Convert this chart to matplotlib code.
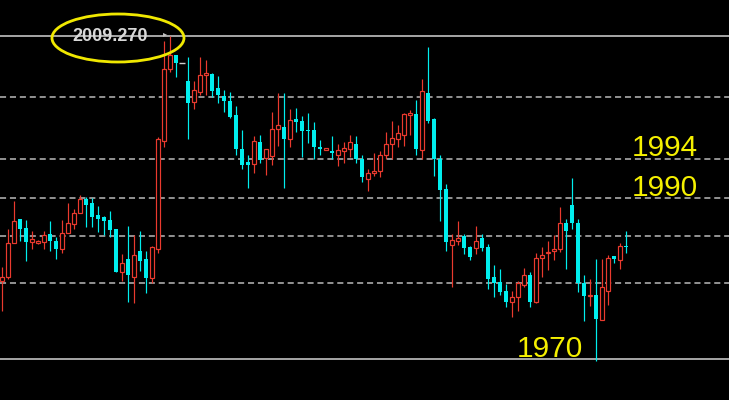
import matplotlib
matplotlib.use("Agg")
import matplotlib.pyplot as plt
from matplotlib.patches import Ellipse

# OHLC of each bar (oldest first)
opens = [1978.65, 1979.15, 1983.40, 1986.40, 1985.27, 1983.52, 1983.40, 1983.52, 1984.52, 1983.65,
         1982.65, 1984.65, 1985.77, 1987.15, 1988.90, 1988.40, 1986.90, 1986.65, 1986.27, 1985.15,
         1979.77, 1981.40, 1979.15, 1982.40, 1981.40, 1979.02, 1982.65, 1996.15, 2005.15, 2006.90,
         2005.90, 2003.65, 2001.02, 2002.27, 2004.40, 2004.52, 2002.77, 2001.77, 2001.15, 1999.40,
         1995.15, 1993.52, 1993.27, 1996.02, 1994.02, 1994.27, 1997.65, 1997.90, 1996.40, 1998.90,
         1998.65, 1997.52, 1997.52, 1995.40, 1995.02, 1994.90, 1994.40, 1994.90, 1995.15, 1995.77,
         1993.90, 1991.40, 1992.15, 1992.40, 1994.40, 1995.77, 1996.40, 1996.90, 1999.40, 1999.52,
         1995.02, 2002.15, 1998.90, 1993.90, 1990.15, 1983.15, 1983.65, 1984.27, 1982.90, 1982.77,
         1984.02, 1982.90, 1979.15, 1978.52, 1977.40, 1976.02, 1976.65, 1978.15, 1979.40, 1976.02,
         1981.52, 1982.15, 1982.40, 1982.65, 1985.90, 1988.15, 1985.90, 1978.40, 1976.77, 1976.90,
         1973.77, 1977.40, 1981.77, 1981.27, 1983.02]
highs = [1980.40, 1985.15, 1988.65, 1986.40, 1986.27, 1984.90, 1983.77, 1984.90, 1986.15, 1984.15,
         1986.27, 1988.40, 1987.65, 1989.40, 1989.15, 1989.02, 1988.02, 1986.77, 1987.40, 1985.15,
         1982.02, 1985.52, 1984.40, 1984.90, 1982.40, 1983.02, 1996.65, 2008.65, 2009.27, 2006.90,
         2005.90, 2006.65, 2003.65, 2006.65, 2006.27, 2004.65, 2004.27, 2002.52, 2002.27, 2000.52,
         1997.52, 1994.40, 1996.77, 1996.90, 1995.15, 1999.77, 2002.15, 2002.15, 2000.15, 2000.27,
         1999.27, 1999.65, 1998.52, 1996.27, 1995.27, 1996.77, 1995.77, 1996.02, 1996.90, 1996.77,
         1994.40, 1992.65, 1994.65, 1994.90, 1997.27, 1998.65, 1998.15, 1999.65, 2000.02, 2001.27,
         2003.90, 2007.90, 1999.02, 1994.40, 1990.77, 1984.52, 1986.15, 1984.52, 1983.02, 1985.52,
         1984.52, 1983.27, 1980.65, 1980.15, 1978.27, 1977.40, 1978.65, 1980.27, 1979.77, 1982.15,
         1982.90, 1983.65, 1984.40, 1987.90, 1986.40, 1991.52, 1986.40, 1979.40, 1978.90, 1981.40,
         1981.40, 1981.90, 1981.77, 1983.40, 1984.90]
lows = [1974.90, 1978.90, 1983.40, 1983.65, 1981.15, 1982.65, 1983.27, 1982.65, 1982.40, 1981.40,
        1982.15, 1984.65, 1985.15, 1987.15, 1985.40, 1985.40, 1984.77, 1984.40, 1984.15, 1979.77,
        1978.65, 1976.02, 1975.90, 1979.90, 1977.15, 1978.40, 1982.15, 1995.40, 2004.77, 2004.15,
        2005.90, 1996.40, 2000.15, 2001.90, 2001.90, 2001.65, 2000.90, 1999.77, 1999.02, 1994.40,
        1992.65, 1990.27, 1992.15, 1993.40, 1991.90, 1993.15, 1995.52, 1990.27, 1995.40, 1997.27,
        1994.15, 1995.90, 1993.90, 1994.40, 1995.02, 1993.90, 1993.02, 1993.40, 1994.15, 1993.40,
        1991.02, 1989.90, 1991.77, 1991.65, 1993.90, 1993.90, 1995.40, 1995.52, 1996.90, 1994.40,
        1993.90, 1998.40, 1991.77, 1986.15, 1982.40, 1977.90, 1983.15, 1982.02, 1981.27, 1982.02,
        1982.40, 1977.65, 1976.65, 1976.90, 1975.40, 1974.15, 1974.90, 1977.90, 1975.40, 1975.90,
        1979.15, 1980.02, 1981.27, 1982.27, 1980.15, 1985.15, 1977.27, 1973.65, 1975.52, 1968.65,
        1973.77, 1975.65, 1980.90, 1980.15, 1982.15]
closes = [1979.15, 1983.40, 1986.15, 1985.15, 1983.52, 1983.90, 1983.65, 1984.40, 1983.65, 1982.65,
          1984.65, 1985.90, 1987.15, 1988.90, 1988.15, 1986.65, 1986.40, 1986.15, 1985.02, 1979.77,
          1980.90, 1979.40, 1981.90, 1981.15, 1979.02, 1982.90, 1996.40, 2005.15, 2006.90, 2005.90,
          2005.90, 2000.90, 2002.52, 2004.40, 2004.65, 2002.40, 2001.90, 2001.15, 1999.15, 1995.15,
          1993.15, 1993.15, 1996.15, 1993.77, 1995.15, 1997.65, 1998.15, 1996.40, 1998.77, 1998.52,
          1997.40, 1997.40, 1995.40, 1995.15, 1995.27, 1994.65, 1995.02, 1995.27, 1996.02, 1993.90,
          1991.65, 1992.15, 1992.40, 1994.40, 1995.77, 1996.52, 1997.15, 1999.52, 1999.65, 1995.15,
          2002.40, 1998.65, 1993.90, 1990.02, 1983.52, 1983.77, 1984.02, 1982.77, 1981.65, 1983.65,
          1982.77, 1978.90, 1978.40, 1977.27, 1976.02, 1976.65, 1978.40, 1979.40, 1976.02, 1981.52,
          1981.90, 1982.27, 1982.65, 1985.90, 1984.90, 1985.90, 1978.40, 1976.77, 1976.90, 1973.90,
          1977.90, 1981.52, 1981.40, 1983.02, 1982.90]

top_level = 2009.27
bottom_level = 1968.90
dashed_levels = [2001.65, 1993.90, 1989.02, 1984.27, 1978.40]
price_label = "2009.270"
level_labels = ["1994", "1990", "1970"]
level_label_y = [1994.27, 1989.27, 1969.15]
level_label_x = [105.0, 105.0, 85.8]

up_color = "#ea3a2e"
down_color = "#00eeee"
px = 0.72  # one pixel in points at dpi 100

fig = plt.figure(figsize=(7.29, 4.0), dpi=100, facecolor="black")
ax = fig.add_axes([0, 0, 1, 1])
ax.set_facecolor("black")
ax.set_xlim(-1 / 3, 727 / 6)
ax.set_ylim(1963.77, 2013.77)
ax.axis("off")

# level lines
ax.axhline(top_level, color="#bdbdbd", lw=1.7 * px, zorder=1)
ax.axhline(bottom_level, color="#bdbdbd", lw=1.7 * px, zorder=1)
for lv in dashed_levels:
    ax.axhline(lv, color="#b2b2b2", lw=1.6 * px, ls=(0, (3.8, 2.4)), zorder=1)

# candles
w = 0.78
for i, (o, h, l, c) in enumerate(zip(opens, highs, lows, closes)):
    if o == c and h == l:
        ax.hlines(o, i - 0.45, i + 0.45, color="#cfcfcf", lw=1.4 * px, zorder=3)
        continue
    if c >= o:
        ax.vlines(i, l, h, color=up_color, lw=1.2 * px, zorder=2)
        ax.bar(i, max(c - o, 0.12), bottom=o, width=w, facecolor="black",
               edgecolor=up_color, linewidth=1.2 * px, zorder=3)
    else:
        ax.vlines(i, l, h, color=down_color, lw=1.2 * px, zorder=2)
        ax.bar(i, max(o - c, 0.12), bottom=c, width=w, color=down_color,
               linewidth=0, zorder=3)

# price tag on the top line
ax.text(11.7, top_level - 0.1, price_label, color="#d8d8d8", fontsize=13,
        family="Liberation Sans", fontweight="bold", ha="left", va="center", zorder=4)
ax.text(27.2, top_level + 0.35, "\u25b8", color="#c0c0c0", fontsize=6,
        ha="center", va="center", zorder=4)
ax.add_patch(Ellipse((19.33, 2009.02), 22.0, 6.0, fill=False,
                     edgecolor="#f0e800", lw=2.8 * px, zorder=5))

for txt, x, y in zip(level_labels, level_label_x, level_label_y):
    ax.text(x, y, txt, color="#f5f000", fontsize=21.5, family="Liberation Sans",
            ha="left", va="baseline", zorder=4)

fig.savefig("out.png", dpi=100, facecolor="black")
